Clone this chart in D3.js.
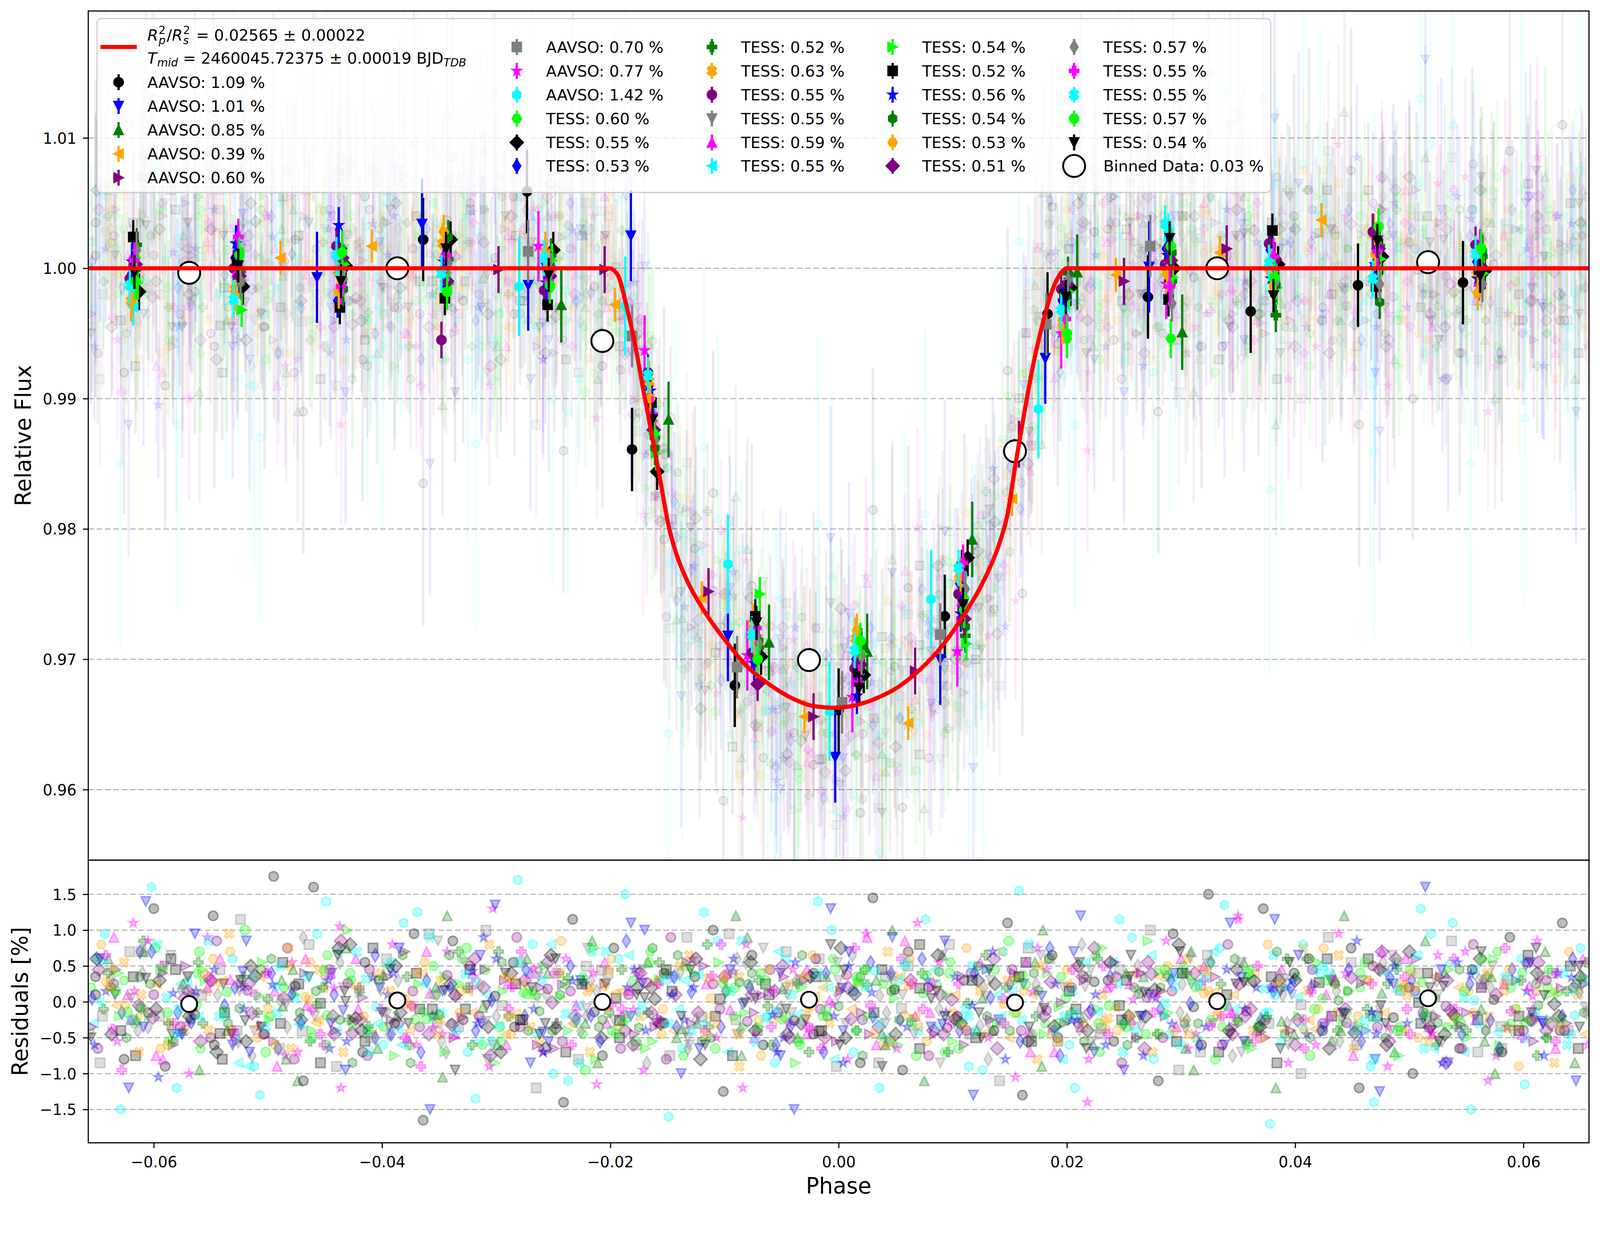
<!DOCTYPE html>
<html><head><meta charset="utf-8">
<script src="https://cdnjs.cloudflare.com/ajax/libs/d3/7.8.5/d3.min.js"></script>
<style>html,body{margin:0;padding:0;background:#fff;overflow:hidden}svg{display:block;background:#fff;width:100vw;height:100vh}</style>
</head><body>
<svg id="c" viewBox="0 0 4223 3192" preserveAspectRatio="xMinYMin meet"></svg>
<script>
// ---------------- DATA ----------------
const setSource = ["AAVSO","AAVSO","AAVSO","AAVSO","AAVSO","AAVSO","AAVSO","AAVSO",
  "TESS","TESS","TESS","TESS","TESS","TESS","TESS","TESS","TESS","TESS",
  "TESS","TESS","TESS","TESS","TESS","TESS","TESS","TESS","TESS","TESS"];
const setPct = [1.09,1.01,0.85,0.39,0.60,0.70,0.77,1.42,
  0.60,0.55,0.53,0.52,0.63,0.55,0.55,0.59,0.55,0.54,
  0.52,0.56,0.54,0.53,0.51,0.57,0.55,0.55,0.57,0.54];
const palette = ["#000000","#0000ff","#008000","#ffa500","#800080","#808080","#ff00ff","#00ffff","#00ff00"];
const markerCycle = ["o","v","^","<",">","s","*","h","H","D","d","P","X"];

const fitLabel1 = "0.02565 ± 0.00022";
const fitLabel2 = "2460045.72375 ± 0.00019";
const binnedLabel = "Binned Data: 0.03 %";

// transit model curve
const modelPhase = [-0.0660,-0.0201,-0.01936,-0.0186,-0.01784,-0.0171,-0.01633,-0.01558,-0.01482,-0.01424,-0.0133,-0.01177,-0.00984,-0.00795,-0.00604,-0.00413,-0.00224,-0.0003,0.00337,0.00526,0.00717,0.00908,0.01097,0.0129,0.01403,0.01479,0.01555,0.01631,0.01707,0.01784,0.0186,0.01937,0.0200,0.0660];
const modelFlux = [1.0,1.0,0.9995,0.99715,0.99416,0.9906,0.98706,0.98349,0.97994,0.97814,0.97608,0.97369,0.97134,0.96939,0.96805,0.96703,0.96642,0.96628,0.96703,0.9679,0.96924,0.97104,0.9734,0.97637,0.97875,0.9811,0.98526,0.98913,0.9927,0.99564,0.99802,0.9995,1.0,1.0];

// overall binned data (white circles)
const whitePhase = [-0.0569,-0.03866,-0.0207,-0.0026,0.01545,0.03317,0.05164];
const whiteFlux  = [0.99965,1.0000,0.99442,0.96994,0.98596,1.0000,1.00047];
const whiteResid = [-0.03,0.02,0.0,0.03,-0.01,0.01,0.05];

// AAVSO binned points
const aavsoBinSet = [0,0,0,0,0,0,0,0,0,0,0, 1,1,1,1,1,1,1,1,1, 2,2,2,2,2,2,2, 3,3,3,3,3,3,3,3,3,3, 4,4,4,4,4,4,4,4, 5,5,5,5,5,5,5, 6,6,6,6,6,6,6, 7,7,7,7,7,7];
const aavsoBinPhase = [-0.0364,-0.0273,-0.0181,-0.0091,0.0000,0.0093,0.0183,0.0271,0.0361,0.0455,0.0547,
  -0.0457,-0.0365,-0.0272,-0.0182,-0.0097,-0.0003,0.0089,0.0181,0.0272,
  -0.0243,-0.0149,-0.0061,0.0025,0.0117,0.0209,0.0301,
  -0.0489,-0.0409,-0.0196,-0.0120,-0.0030,0.0061,0.0152,0.0243,0.0334,0.0423,
  -0.0298,-0.0205,-0.0114,-0.0022,0.0067,0.0158,0.0250,0.0340,
  -0.0272,-0.0181,-0.0089,0.0003,0.0089,0.0182,0.0273,
  -0.0263,-0.0170,-0.0080,0.0012,0.0104,0.0195,0.0287,
  -0.0280,-0.0187,-0.0097,-0.0008,0.0081,0.0175];
const aavsoBinFlux = [1.0022,1.0059,0.9861,0.9680,0.9661,0.9733,0.9965,0.9978,0.9967,0.9987,0.9989,
  0.9993,1.0034,0.9987,1.0025,0.9718,0.9625,0.9700,0.9931,1.0001,
  0.9972,0.9884,0.9713,0.9706,0.9792,0.9997,0.9951,
  1.0008,1.0017,0.9972,0.9747,0.9656,0.9651,0.9823,0.9995,1.0012,1.0037,
  0.9999,0.9999,0.9752,0.9656,0.9691,0.9865,0.9990,1.0015,
  1.0013,0.9948,0.9694,0.9667,0.9719,0.9957,1.0017,
  1.0017,0.9937,0.9703,0.9671,0.9706,0.9950,0.9988,
  0.9986,0.9971,0.9773,0.9660,0.9746,0.9892];
const aavsoBinErr = [0.0032,0.0035,0.0029,0.0013,0.0018,0.0024,0.0027,0.0038];

// TESS binned points: 14 bins per TESS set (sets 8..27)
const tessBinCenter = [-0.0617,-0.0526,-0.0436,-0.0344,-0.0254,-0.0163,-0.0072,0.0018,0.0109,0.0199,0.0290,0.0381,0.0472,0.0562];
const tessPhaseOffset = [1,4,-3,2,-3,-4,0,-1,-1,3,-1,-2,2,-2,1,2,0,-4,1,0]; // units of 1e-4
const tessBinErr = [0.0015,0.0014,0.0013,0.0013,0.0016,0.0014,0.0014,0.0015,0.0014,0.0013,0.0013,0.0014,0.0013,0.0013,0.0013,0.0014,0.0014,0.0014,0.0014,0.0013];
const tessBinFlux = [
 1.0008,1.0013,1.0015,0.9985,0.9985,0.9876,0.9707,0.9705,0.9747,0.9946,0.9946,0.9995,0.9997,1.0007,
 0.9982,0.9986,1.0002,1.0022,1.0014,0.9844,0.9702,0.9688,0.9778,0.9985,1.0000,1.0003,1.0009,0.9998,
 0.9995,1.0008,0.9975,0.9998,1.0004,0.9910,0.9718,0.9700,0.9758,0.9975,1.0015,1.0014,1.0001,1.0005,
 1.0018,0.9998,1.0005,1.0007,1.0010,0.9870,0.9709,0.9709,0.9718,0.9996,0.9990,0.9964,1.0017,1.0009,
 0.9975,0.9984,0.9998,1.0019,1.0012,0.9913,0.9727,0.9716,0.9762,0.9958,0.9997,1.0000,1.0026,0.9995,
 0.9992,1.0000,1.0017,0.9945,0.9983,0.9920,0.9705,0.9693,0.9750,0.9984,1.0003,1.0019,1.0028,1.0018,
 0.9998,0.9993,0.9994,0.9993,0.9992,0.9880,0.9715,0.9685,0.9740,0.9972,1.0005,0.9994,0.9995,1.0002,
 1.0010,0.9997,1.0000,1.0012,1.0001,0.9893,0.9722,0.9699,0.9745,0.9965,1.0008,0.9997,1.0005,0.9990,
 0.9970,0.9990,0.9996,1.0001,0.9996,0.9890,0.9711,0.9712,0.9767,0.9970,1.0028,1.0001,0.9998,1.0003,
 0.9989,0.9968,1.0003,0.9988,1.0006,0.9858,0.9750,0.9704,0.9712,0.9982,0.9993,0.9985,1.0007,0.9996,
 1.0024,1.0006,0.9970,0.9977,0.9972,0.9897,0.9733,0.9690,0.9771,0.9980,0.9976,1.0029,0.9986,0.9999,
 1.0005,1.0019,1.0033,1.0005,0.9989,0.9906,0.9697,0.9672,0.9735,0.9975,1.0010,0.9992,1.0003,0.9992,
 1.0000,0.9989,0.9984,1.0024,1.0000,0.9862,0.9714,0.9711,0.9725,0.9990,1.0012,0.9987,0.9974,1.0013,
 0.9976,0.9980,0.9982,1.0028,1.0010,0.9900,0.9716,0.9722,0.9765,0.9955,0.9995,0.9996,1.0011,0.9981,
 1.0003,0.9994,1.0008,0.9990,0.9994,0.9876,0.9681,0.9696,0.9731,0.9988,1.0006,1.0007,1.0015,1.0000,
 1.0014,0.9990,0.9992,1.0004,0.9998,0.9868,0.9712,0.9702,0.9754,0.9991,0.9973,0.9990,0.9988,0.9988,
 1.0006,1.0024,0.9986,1.0010,0.9990,0.9888,0.9724,0.9682,0.9774,0.9961,0.9986,1.0009,1.0013,1.0016,
 0.9987,0.9976,1.0010,0.9996,1.0008,0.9918,0.9719,0.9707,0.9770,0.9968,1.0034,1.0004,0.9992,1.0011,
 0.9990,1.0010,1.0012,0.9982,0.9987,0.9873,0.9700,0.9714,0.9738,0.9950,1.0017,0.9993,1.0032,1.0015,
 0.9997,1.0002,0.9990,1.0015,0.9995,0.9884,0.9728,0.9678,0.9742,0.9978,1.0023,0.9979,1.0021,0.9994];

// raw points: phase (units 1e-4) and residual (units 0.01 %); point i belongs to set i % 28
const rawPhase = [
-651,-622,-640,-615,-633,-647,-618,-629,-655,-637,-612,-644,-626,-649,-620,-635,-653,-631,-616,-642,-624,-646,-613,-638,-628,-650,-619,-634,
-590,-607,-575,-598,-583,-611,-571,-602,-587,-595,-579,-609,-573,-600,-585,-592,-577,-604,-581,-596,-612,-588,-570,-605,-593,-578,-599,-584,
-548,-531,-560,-540,-566,-527,-553,-537,-562,-545,-529,-557,-534,-550,-564,-542,-526,-555,-538,-547,-568,-533,-559,-544,-530,-552,-563,-539,
-503,-519,-488,-510,-495,-524,-485,-507,-498,-515,-491,-521,-500,-483,-512,-494,-517,-505,-489,-522,-497,-509,-486,-514,-501,-492,-520,-506,
-460,-445,-474,-452,-468,-440,-479,-457,-448,-471,-442,-463,-455,-477,-450,-466,-439,-461,-473,-446,-458,-481,-443,-469,-454,-476,-449,-464,
-417,-402,-431,-409,-425,-396,-436,-413,-399,-428,-406,-420,-434,-411,-398,-423,-404,-430,-415,-395,-426,-408,-419,-437,-401,-422,-412,-433,
-372,-358,-387,-365,-380,-352,-391,-369,-355,-384,-361,-376,-393,-367,-351,-378,-363,-389,-370,-356,-382,-374,-359,-386,-366,-392,-354,-377,
-329,-314,-343,-321,-337,-309,-347,-325,-312,-340,-318,-333,-349,-323,-308,-335,-316,-345,-327,-311,-339,-331,-319,-344,-322,-348,-310,-336,
-285,-270,-299,-277,-293,-265,-303,-281,-268,-296,-274,-289,-306,-279,-264,-291,-272,-301,-283,-267,-295,-287,-275,-300,-278,-304,-266,-292,
-241,-226,-255,-233,-249,-221,-259,-237,-224,-252,-230,-245,-262,-235,-220,-247,-228,-257,-239,-223,-251,-243,-231,-256,-234,-260,-222,-248,
-197,-182,-211,-189,-205,-177,-215,-193,-180,-208,-186,-201,-218,-191,-176,-203,-184,-213,-195,-179,-207,-199,-187,-212,-190,-216,-178,-204,
-153,-138,-167,-145,-161,-133,-171,-149,-136,-164,-142,-157,-174,-147,-132,-159,-140,-169,-151,-135,-163,-155,-143,-168,-146,-172,-134,-160,
-110,-95,-124,-102,-118,-90,-128,-106,-93,-121,-99,-114,-131,-104,-89,-116,-97,-126,-108,-92,-120,-112,-100,-125,-103,-129,-91,-117,
-66,-51,-80,-58,-74,-46,-84,-62,-49,-77,-55,-70,-87,-60,-45,-72,-53,-82,-64,-48,-76,-68,-56,-81,-59,-85,-47,-73,
-22,-7,-36,-14,-30,-2,-40,-18,-5,-33,-11,-26,-43,-16,-1,-28,-9,-38,-20,-4,-32,-24,-12,-37,-15,-41,-3,-29,
19,4,33,11,27,41,8,36,15,2,30,23,39,13,6,25,43,17,31,9,21,1,35,12,28,42,16,38,
61,47,75,54,82,45,69,58,86,50,73,64,48,79,56,67,84,52,71,60,46,77,63,88,55,70,49,81,
104,118,91,126,110,97,131,114,93,122,106,129,99,116,89,124,108,95,120,102,130,112,92,127,100,117,105,123,
148,162,135,170,154,141,174,158,137,166,150,173,143,160,133,168,152,139,164,146,171,156,136,169,144,161,149,167,
192,206,179,214,198,185,218,202,181,210,194,217,187,204,177,212,196,183,208,190,215,200,180,213,188,205,193,211,
236,250,223,258,242,229,262,246,225,254,238,261,231,248,221,256,240,227,252,234,259,244,224,257,232,249,237,255,
280,294,267,302,286,273,306,290,269,298,282,305,275,292,265,300,284,271,296,278,303,288,268,301,276,293,281,299,
324,338,311,346,330,317,350,334,313,342,326,349,319,336,309,344,328,315,340,322,347,332,312,345,320,337,325,343,
368,382,355,390,374,361,394,378,357,386,370,393,363,380,353,388,372,359,384,366,391,376,356,389,364,381,369,387,
412,426,399,434,418,405,438,422,401,430,414,437,407,424,397,432,416,403,428,410,435,420,400,433,408,425,413,431,
456,470,443,478,462,449,482,466,445,474,458,481,451,468,441,476,460,447,472,454,479,464,444,477,452,469,457,475,
500,514,487,522,506,493,525,510,489,518,502,524,495,512,485,520,504,491,516,498,523,508,488,521,496,513,501,519,
544,558,531,566,550,537,569,554,533,562,546,568,539,556,529,564,548,535,560,542,567,552,532,565,540,557,545,563,
588,602,575,610,594,581,613,598,577,606,590,612,583,600,573,608,592,579,604,586,611,596,576,609,584,601,589,607,
632,646,619,654,638,625,656,642,621,650,634,655,627,644,617,652,636,623,648,630,653,640,620,651,628,645,633,649,
-626,-647,-615,-638,-654,-621,-632,-643,-617,-650,-628,-640,-613,-635,-656,-623,-645,-630,-618,-652,-637,-625,-648,-614,-642,-620,-633,-655,
-600,-575,-609,-587,-572,-595,-605,-580,-592,-569,-602,-583,-611,-577,-590,-598,-571,-607,-585,-578,-603,-594,-573,-610,-582,-597,-588,-570,
-547,-564,-536,-555,-527,-542,-569,-531,-559,-550,-538,-561,-533,-545,-566,-553,-529,-557,-540,-563,-535,-548,-568,-526,-552,-543,-560,-532,
-495,-516,-484,-507,-523,-490,-501,-512,-486,-519,-497,-509,-482,-504,-525,-492,-514,-499,-487,-521,-506,-494,-517,-483,-511,-489,-502,-524,
-469,-444,-478,-456,-441,-464,-474,-449,-461,-438,-471,-452,-480,-446,-459,-467,-440,-476,-454,-447,-472,-463,-442,-479,-451,-466,-457,-439,
-415,-432,-404,-423,-395,-410,-437,-399,-427,-418,-406,-429,-401,-413,-434,-421,-397,-425,-408,-431,-403,-416,-436,-394,-420,-411,-428,-400,
-364,-385,-353,-376,-392,-359,-370,-381,-355,-388,-366,-378,-351,-373,-394,-361,-383,-368,-356,-390,-375,-363,-386,-352,-380,-358,-371,-393,
-338,-313,-347,-325,-310,-333,-343,-318,-330,-307,-340,-321,-349,-315,-328,-336,-309,-345,-323,-316,-341,-332,-311,-348,-320,-335,-326,-308,
-284,-301,-273,-292,-264,-279,-306,-268,-296,-287,-275,-298,-270,-282,-303,-290,-266,-294,-277,-300,-272,-285,-305,-263,-289,-280,-297,-269,
-233,-254,-222,-245,-261,-228,-239,-250,-224,-257,-235,-247,-220,-242,-263,-230,-252,-237,-225,-259,-244,-232,-255,-221,-249,-227,-240,-262,
-207,-182,-216,-194,-179,-202,-212,-187,-199,-176,-209,-190,-218,-184,-197,-205,-178,-214,-192,-185,-210,-201,-180,-217,-189,-204,-195,-177,
-153,-170,-142,-161,-133,-148,-175,-137,-165,-156,-144,-167,-139,-151,-172,-159,-135,-163,-146,-169,-141,-154,-174,-132,-158,-149,-166,-138,
-101,-122,-90,-113,-129,-96,-107,-118,-92,-125,-103,-115,-88,-110,-131,-98,-120,-105,-93,-127,-112,-100,-123,-89,-117,-95,-108,-130,
-76,-51,-85,-63,-48,-71,-81,-56,-68,-45,-78,-59,-87,-53,-66,-74,-47,-83,-61,-54,-79,-70,-49,-86,-58,-73,-64,-46,
-22,-39,-11,-30,-2,-17,-44,-6,-34,-25,-13,-36,-8,-20,-41,-28,-4,-32,-15,-38,-10,-23,-43,-1,-27,-18,-35,-7,
30,9,41,18,2,35,24,13,39,6,28,16,43,21,0,33,11,26,38,4,19,31,8,42,14,36,23,1,
56,81,47,69,84,61,51,76,64,87,54,73,45,79,66,58,85,49,71,78,53,62,83,46,74,59,68,86,
110,93,121,102,130,115,88,126,98,107,119,96,124,112,91,104,128,100,117,94,122,109,89,131,105,114,97,125,
161,140,172,149,133,166,155,144,170,137,159,147,174,152,131,164,142,157,169,135,150,162,139,173,145,167,154,132,
187,212,178,200,215,192,182,207,195,218,185,204,176,210,197,189,216,180,202,209,184,193,214,177,205,190,199,217,
241,224,252,233,261,246,219,257,229,238,250,227,255,243,222,235,259,231,248,225,253,240,220,262,236,245,228,256,
293,272,304,281,265,298,287,276,302,269,291,279,306,284,263,296,274,289,301,267,282,294,271,305,277,299,286,264,
318,343,309,331,346,323,313,338,326,349,316,335,307,341,328,320,347,311,333,340,315,324,345,308,336,321,330,348,
372,355,383,364,392,377,350,388,360,369,381,358,386,374,353,366,390,362,379,356,384,371,351,393,367,376,359,387,
424,403,435,412,396,429,418,407,433,400,422,410,437,415,394,427,405,420,432,398,413,425,402,436,408,430,417,395,
449,474,440,462,477,454,444,469,457,480,447,466,438,472,459,451,478,442,464,471,446,455,476,439,467,452,461,479,
503,486,514,495,523,508,481,519,491,500,512,489,517,505,484,497,521,493,510,487,515,502,482,524,498,507,490,518,
555,534,566,543,527,560,549,538,564,531,553,541,568,546,525,558,536,551,563,529,544,556,533,567,539,561,548,526,
581,606,572,594,609,586,576,601,589,612,579,598,570,604,591,583,610,574,596,603,578,587,608,571,599,584,593,611,
634,617,645,626,654,639,612,650,622,631,643,620,648,636,615,628,652,624,641,618,646,633,613,655,629,638,621,649,
-651,-609,-574,-633,-592,-645,-617,-580,-626,-598,-654,-587,-639,-605,-571,-620,-648,-594,-629,-583,-612,-642,-601,-576,-636,-589,-623,-607,
-564,-522,-487,-546,-505,-558,-530,-493,-539,-511,-567,-500,-552,-518,-484,-533,-561,-507,-542,-496,-525,-555,-514,-489,-549,-502,-536,-520,
-476,-434,-399,-458,-417,-470,-442,-405,-451,-423,-479,-412,-464,-430,-396,-445,-473,-419,-454,-408,-437,-467,-426,-401,-461,-414,-448,-432,
-389,-347,-312,-371,-330,-383,-355,-318,-364,-336,-392,-325,-377,-343,-309,-358,-386,-332,-367,-321,-350,-380,-339,-314,-374,-327,-361,-345,
-301,-259,-224,-283,-242,-295,-267,-230,-276,-248,-304,-237,-289,-255,-221,-270,-298,-244,-279,-233,-262,-292,-251,-226,-286,-239,-273,-257,
-214,-172,-137,-196,-155,-208,-180,-143,-189,-161,-217,-150,-202,-168,-134,-183,-211,-157,-192,-146,-175,-205,-164,-139,-199,-152,-186,-170,
-126,-84,-49,-108,-67,-120,-92,-55,-101,-73,-129,-62,-114,-80,-46,-95,-123,-69,-104,-58,-87,-117,-76,-51,-111,-64,-98,-82,
-39,3,38,-21,20,-33,-5,32,-14,14,-42,25,-27,7,41,-8,-36,18,-17,29,0,-30,11,36,-24,23,-11,5,
49,91,126,67,108,55,83,120,74,102,46,113,61,95,129,80,52,106,71,117,88,58,99,124,64,111,77,93,
136,178,213,154,195,142,170,207,161,189,133,200,148,182,216,167,139,193,158,204,175,145,186,211,151,198,164,180,
224,266,301,242,283,230,258,295,249,277,221,288,236,270,304,255,227,281,246,292,263,233,274,299,239,286,252,268,
311,353,388,329,370,317,345,382,336,364,308,375,323,357,391,342,314,368,333,379,350,320,361,386,326,373,339,355,
399,441,476,417,458,405,433,470,424,452,396,463,411,445,479,430,402,456,421,467,438,408,449,474,414,461,427,443,
486,528,563,504,545,492,520,557,511,539,483,550,498,532,566,517,489,543,508,554,525,495,536,561,501,548,514,530,
574,616,651,592,633,580,608,645,599,627,571,638,586,620,654,605,577,631,596,642,613,583,624,649,589,636,602,618];
const rawResid = [
35,-120,60,-20,45,-85,110,-150,20,-45,70,-10,55,-65,5,90,-30,40,-75,15,-50,80,-5,30,-95,60,-25,10,
-90,140,-40,25,-60,70,-30,160,-55,30,-15,85,-40,10,65,-80,25,-20,45,-105,35,-60,15,-35,50,-10,75,-45,
120,-60,-95,30,10,-40,90,-20,40,-70,20,-30,95,-50,5,60,-85,30,-15,45,-25,70,-55,10,-40,85,-5,25,
-45,85,30,-35,-55,115,-75,-130,-20,50,-65,35,-10,75,-40,15,-90,55,-30,20,60,-50,5,-75,40,-15,100,-35,
160,-30,-110,20,40,-90,55,95,65,-25,10,-55,45,-80,30,-5,70,-40,25,-65,15,50,-20,90,-45,5,-60,35,
-70,20,75,-45,-25,60,-120,-40,-35,80,-50,20,-70,45,-15,60,-30,100,-55,10,-85,35,-25,55,-10,70,-40,15,
95,-150,-20,40,70,-30,80,125,50,-15,30,-60,15,-35,85,-50,25,-75,40,-20,65,-5,-45,30,-90,55,10,-30,
-25,65,120,-15,-50,100,-45,-70,-60,25,-40,70,-25,50,-80,10,-55,35,-10,90,-30,15,60,-70,20,-15,45,-95,
55,-85,-60,25,30,-120,130,170,15,-70,45,-20,80,-35,5,-60,40,-85,25,-10,55,-45,30,-20,70,-55,10,40,
-140,30,40,-30,-65,50,-70,-110,-45,65,-25,40,-55,15,75,-30,-5,50,-70,25,-40,85,-20,10,-60,30,-95,60,
75,110,-85,15,25,-60,40,60,30,-50,85,-15,20,-65,40,-30,65,-80,5,45,-25,60,-40,15,-10,70,-55,25,
-30,-100,55,-40,-35,90,-95,-160,-75,20,-35,55,-20,90,-50,30,-10,-65,45,-25,75,-45,10,-85,35,-5,50,-30,
100,45,-30,30,50,-25,60,85,40,-80,15,-35,65,-10,-45,25,-70,40,-20,60,-55,5,35,-25,80,-40,20,-60,
-60,-75,90,-25,-15,70,-120,-20,-25,55,-60,30,-90,45,10,-40,70,-15,25,-50,40,-75,15,55,-35,85,-20,5,
40,130,-50,20,30,-90,45,140,60,-30,40,-70,25,-10,55,-45,20,-85,35,-20,65,-5,-50,30,-65,10,45,-25,
-85,-40,30,-10,-45,35,-80,-120,-40,75,-20,45,-60,15,-30,90,-55,25,-15,50,-75,20,-35,65,-5,-50,35,-90,
70,90,-110,35,20,-55,110,50,25,-45,60,-25,35,-75,10,-20,45,-60,80,-35,15,-55,30,-10,60,-40,20,5,
-20,-130,65,-45,-60,80,-50,-90,-70,30,-40,65,-15,40,-85,55,-25,10,-50,35,-20,75,-45,20,-30,50,-65,-15,
110,25,-40,10,40,-110,75,155,45,-55,25,-20,70,-40,30,-70,15,-30,55,-80,40,-15,60,-45,5,-25,85,-35,
-50,70,100,-30,-30,60,-140,-60,-30,50,-75,35,-45,20,65,-35,-80,40,-10,25,-55,45,-20,80,-40,15,-30,55,
30,-95,-60,40,55,-45,40,115,65,-20,35,-50,10,-85,45,-25,55,-10,30,-60,20,-40,75,-30,50,-70,-5,35,
-110,40,35,-25,-20,100,-65,-45,-45,80,-10,40,-70,15,-35,60,-20,85,-55,5,-30,50,-65,25,-15,35,-45,70,
150,-60,-95,10,35,-70,120,75,20,-40,55,-25,45,-60,25,-15,70,-50,10,-35,60,-20,40,-75,30,-5,55,-45,
-35,115,55,-40,-50,30,-85,-170,-60,30,-25,60,-40,20,-70,45,-15,35,-85,20,-45,80,-20,10,-55,65,-30,15,
60,-35,-45,25,25,-100,95,40,35,-65,20,-40,75,-30,10,-55,45,-20,60,-45,25,-10,-60,35,-25,50,-75,30,
-120,-80,120,-15,-40,55,-35,-90,-15,45,-55,25,-65,50,-25,70,-40,15,-20,85,-50,30,-10,55,-35,-80,40,-5,
20,160,-70,35,60,-40,65,130,55,-35,30,-60,25,-15,65,-45,10,-75,40,-30,5,-50,60,-20,35,-65,45,-40,
-65,-20,40,-30,-15,85,-110,-150,-35,60,-45,35,-20,80,-55,25,-70,45,-25,55,-40,15,-85,30,-10,45,-30,70,
90,50,-100,15,30,-65,30,60,70,-25,45,-75,15,-40,50,-10,30,-60,65,-35,25,-90,10,-20,75,-50,20,-15,
-40,-110,70,-45,-30,40,-60,-45,-50,35,-20,55,-85,20,-30,60,-45,10,-65,40,-15,70,-40,25,-55,15,-25,50,
-80,60,-25,45,-35,70,-55,95,-30,60,-15,40,-70,25,-45,10,55,-20,35,-60,20,-5,45,-40,65,-25,15,-50,
130,-45,70,-30,50,-20,85,-120,45,-20,70,-55,10,-35,50,-75,30,-10,60,-45,25,-65,5,40,-30,80,-15,35,
-60,95,-40,15,-55,45,-100,60,-65,30,-5,55,-40,85,-25,20,-50,45,-80,15,-30,60,-10,-55,35,-20,70,-45,
175,-70,-80,35,25,-65,40,-90,20,-55,40,-15,75,-45,15,-90,35,-25,55,-10,45,-60,25,-35,10,50,-70,30,
-110,40,45,-25,-40,80,-70,140,-50,75,-30,20,-65,45,-20,60,-40,10,-85,30,-15,55,-45,20,-60,35,-5,65,
55,-95,-65,20,35,-50,105,-60,30,-40,65,-25,40,-75,20,-10,50,-35,75,-55,30,-20,85,-45,15,-70,40,-15,
-165,75,20,-40,-25,95,-60,110,-20,50,-70,35,-45,15,-35,70,-60,25,-10,40,-85,55,-30,10,-50,90,-25,45,
85,-30,-105,15,45,-35,70,-135,60,-35,20,-60,30,-20,55,-45,10,-70,45,-30,65,-15,20,-55,35,-40,75,-5,
-35,135,60,-45,-60,55,-90,80,-55,40,-20,70,-35,90,-60,25,-45,15,-25,60,-40,30,-75,45,-10,55,-35,20,
115,-55,-30,40,20,-80,60,-100,35,-65,50,-30,15,-55,35,-5,80,-40,25,-70,10,-30,55,-20,40,-85,25,-45,
-75,-20,85,-35,-45,40,-115,150,-40,20,-55,45,-70,10,-25,55,-15,75,-50,20,-35,45,-60,30,-20,70,-45,10,
40,100,-50,30,55,-75,35,-65,70,-30,35,-15,50,-80,45,-25,30,-55,15,-40,65,-10,40,-65,25,-30,55,-20,
-125,-65,120,-20,-30,95,-50,125,-20,60,-35,80,-45,25,-60,40,-30,55,-75,20,-50,35,-15,60,-40,15,-65,45,
65,40,-75,45,35,-40,80,-85,40,-45,20,-60,35,-15,75,-50,60,-35,10,-70,25,-25,50,-40,15,-55,30,-10,
-45,-150,35,-20,-55,60,-30,100,-60,35,-70,25,-30,60,-15,45,-80,20,-40,55,-20,65,-50,10,-35,40,-55,80,
145,70,-60,25,15,-85,95,-70,25,-50,55,-40,70,-25,30,-60,15,-20,45,-85,35,-45,20,-15,75,-30,45,-60,
-95,-35,100,-35,-45,50,-65,115,-30,65,-25,40,-55,20,-45,85,-35,5,-65,30,-25,60,-40,35,-10,55,-75,15,
30,85,-40,10,45,-45,55,-95,55,-30,40,-70,15,-40,65,-20,45,-55,30,-15,50,-35,10,-80,25,-20,40,-50,
-130,-25,55,-50,-25,75,-105,70,-45,25,-55,20,-80,45,-30,55,-20,30,-55,70,-40,15,-65,25,-30,80,-15,45,
65,120,-90,25,30,-55,45,-120,35,-40,75,-15,50,-30,20,-70,55,-45,15,-25,60,-55,35,-10,45,-40,5,-65,
-55,-70,40,-40,-50,45,-80,90,-70,55,-30,60,-20,35,-55,20,-40,75,-25,10,-60,30,-15,50,-45,25,-30,65,
95,10,-65,35,40,-95,85,-80,50,-20,30,-45,60,-50,15,-35,65,-15,40,-75,20,-40,55,-25,10,-60,45,-20,
-60,110,70,-15,-35,65,-45,135,-25,45,-60,25,-45,80,-30,50,-10,30,-70,45,-30,15,-45,65,-20,35,-80,25,
130,-55,-120,40,20,-30,115,-55,45,-35,15,-55,25,-25,55,-40,20,-65,35,-10,70,-50,25,-30,50,-15,40,-65,
-40,65,30,-25,-40,90,-60,80,-55,30,-40,60,-15,45,-60,10,-35,55,-20,30,-50,75,-25,15,-65,40,-10,55,
75,-125,-40,30,45,-60,40,-140,20,-60,45,-20,65,-35,30,-75,40,-30,60,-45,15,-20,70,-55,25,-40,55,-30,
-100,25,85,-40,-20,40,-90,95,-35,70,-20,45,-55,15,-40,60,-65,20,-30,50,-20,40,-55,30,-10,65,-40,20,
45,-85,-55,20,35,-70,70,110,60,-45,25,-35,40,-65,10,-25,55,-50,20,-85,45,-15,30,-40,60,-30,15,-55,
-70,55,35,-35,-55,30,-75,-115,-30,40,-65,30,-20,55,-45,25,-15,60,-40,15,-70,45,-25,20,-50,35,-10,75,
110,-30,-85,15,25,-40,85,75,45,-20,60,-50,10,-40,35,-65,30,-25,50,-75,25,-35,55,-15,40,-60,20,-35,
10,-35,25,-5,40,-20,15,-45,30,-10,5,-30,20,-15,35,-25,0,45,-40,12,-8,28,-22,18,-38,6,-14,33,
-18,42,-6,27,-33,9,-47,21,-12,36,-28,4,-39,16,-3,31,-21,8,-44,24,-9,38,-16,2,29,-35,14,-26,
22,-12,37,-29,6,-41,19,-7,44,-23,11,-34,3,26,-17,40,-31,13,-2,34,-25,7,-43,17,-11,32,-19,1,
-30,15,-8,41,-22,3,-36,28,-14,9,-45,20,-4,37,-27,12,-39,25,-10,43,-18,5,-32,23,-6,39,-24,16,
8,-42,30,-16,24,-5,46,-27,13,-37,2,33,-20,18,-9,40,-34,7,-25,29,-13,35,-1,-41,21,-17,11,-30,
-14,26,-38,12,-24,44,-11,35,-29,4,-19,39,-7,27,-43,16,-2,31,-26,10,-36,22,-15,41,-4,30,-22,6,
35,-3,18,-32,9,-21,42,-13,25,-40,14,-6,33,-27,20,-11,38,-35,4,-18,27,-44,10,-8,36,-23,15,-1,
-26,19,-45,7,-15,31,-4,43,-20,11,-33,24,-9,38,-30,2,-17,29,-41,13,-6,36,-24,9,-37,21,-12,44,
17,-31,5,-20,36,-9,27,-40,12,-24,40,-2,23,-36,8,-15,31,-28,19,-5,42,-19,3,-33,25,-11,37,-21,
-40,8,-22,33,-1,-29,14,-16,38,-34,6,-25,30,-12,21,-42,10,-7,35,-26,16,-3,28,-38,4,-20,24,-9,
28,-20,41,-8,15,-37,3,20,-30,17,-11,36,-23,6,-39,25,-14,42,-5,-31,11,-27,39,-15,22,-2,-35,13,
-7,34,-27,14,-42,23,-18,9,-35,29,-2,-21,41,-13,32,-6,24,-37,1,19,-28,12,-10,37,-33,18,-4,27,
40,-15,12,-38,26,-4,31,-23,5,-43,20,-10,16,-29,43,-19,7,-32,27,-14,2,-39,34,-7,14,-26,30,-17,
-22,45,-10,21,-32,16,-44,2,27,-18,34,-40,9,-6,24,-35,15,-23,-1,38,-29,20,-12,31,-45,6,-16,22,
3,-27,36,-11,19,-34,8,-19,41,-3,-26,15,-37,30,-8,22,-42,11,-20,34,-5,26,-31,14,-13,40,-28,9];

const mainTicks = [0.96,0.97,0.98,0.99,1.00,1.01];
const resTicks = [-1.5,-1.0,-0.5,0.0,0.5,1.0,1.5];
const phaseTicks = [-0.06,-0.04,-0.02,0.00,0.02,0.04,0.06];

// ---------------- RENDER ----------------
const FONT = "'DejaVu Sans', 'Liberation Sans', sans-serif";
const svg = d3.select("#c");
const L = 233, R = 4194, T = 29, M = 2270, B = 3016;
const x = d3.scaleLinear().domain([-0.06574, 0.06574]).range([L, R]);
const yM = d3.scaleLinear().domain([0.95459, 1.01974]).range([M, T]);
const yR = d3.scaleLinear().domain([-1.965, 1.976]).range([B, M]);

const colorOf = i => palette[i % palette.length];
const markOf = i => markerCycle[i % markerCycle.length];

function markerPath(m, s) {
  const h = s / 2;
  const poly = pts => "M" + pts.map(p => p[0].toFixed(2) + "," + p[1].toFixed(2)).join("L") + "Z";
  const q = s * 0.7071;
  switch (m) {
    case "o": return `M${h},0A${h},${h} 0 1,1 ${-h},0A${h},${h} 0 1,1 ${h},0Z`;
    case "v": return poly([[0, h], [-h, -h], [h, -h]]);
    case "^": return poly([[0, -h], [-h, h], [h, h]]);
    case "<": return poly([[-h, 0], [h, -h], [h, h]]);
    case ">": return poly([[h, 0], [-h, -h], [-h, h]]);
    case "s": return poly([[-h, -h], [h, -h], [h, h], [-h, h]]);
    case "*": { const pts = []; for (let k = 0; k < 10; k++) { const r = k % 2 ? h * 0.381966 : h; const a = -Math.PI / 2 + k * Math.PI / 5; pts.push([r * Math.cos(a), r * Math.sin(a)]); } return poly(pts); }
    case "h": { const pts = []; for (let k = 0; k < 6; k++) { const a = -Math.PI / 2 + k * Math.PI / 3; pts.push([h * Math.cos(a), h * Math.sin(a)]); } return poly(pts); }
    case "H": { const pts = []; for (let k = 0; k < 6; k++) { const a = k * Math.PI / 3; pts.push([h * Math.cos(a), h * Math.sin(a)]); } return poly(pts); }
    case "D": return poly([[0, -q], [q, 0], [0, q], [-q, 0]]);
    case "d": return poly([[0, -q], [0.6 * q, 0], [0, q], [-0.6 * q, 0]]);
    case "P": { const u = s / 6; return poly([[-u,-3*u],[u,-3*u],[u,-u],[3*u,-u],[3*u,u],[u,u],[u,3*u],[-u,3*u],[-u,u],[-3*u,u],[-3*u,-u],[-u,-u]]); }
    case "X": { const v = s / 4; return poly([[-v,-2*v],[0,-v],[v,-2*v],[2*v,-v],[v,0],[2*v,v],[v,2*v],[0,v],[-v,2*v],[-2*v,v],[-v,0],[-2*v,-v]]); }
  }
  return "";
}

// model interpolation (linear between read points)
const bis = d3.bisector(d => d).left;
function modelAt(p) {
  let i = bis(modelPhase, p);
  if (i <= 0) return modelFlux[0];
  if (i >= modelPhase.length) return modelFlux[modelFlux.length - 1];
  const p0 = modelPhase[i - 1], p1 = modelPhase[i];
  const t = (p - p0) / (p1 - p0);
  return modelFlux[i - 1] + t * (modelFlux[i] - modelFlux[i - 1]);
}

const defs = svg.append("defs");
defs.append("clipPath").attr("id", "clipM").append("rect").attr("x", L).attr("y", T).attr("width", R - L).attr("height", M - T);
defs.append("clipPath").attr("id", "clipR").append("rect").attr("x", L).attr("y", M).attr("width", R - L).attr("height", B - M);

svg.append("rect").attr("x", 0).attr("y", 0).attr("width", 4223).attr("height", 3192).attr("fill", "#fff");

// grid
const gridStyle = g => g.attr("stroke", "#aaaaaa").attr("stroke-width", 2.5).attr("stroke-dasharray", "15,7");
svg.append("g").selectAll("line").data(mainTicks).join("line")
  .attr("x1", L).attr("x2", R).attr("y1", d => yM(d)).attr("y2", d => yM(d)).call(gridStyle);
svg.append("g").selectAll("line").data(resTicks).join("line")
  .attr("x1", L).attr("x2", R).attr("y1", d => yR(d)).attr("y2", d => yR(d)).call(gridStyle);

// raw points
const nRaw = Math.min(rawPhase.length, rawResid.length);
const raw = d3.range(nRaw).map(i => {
  const set = i % 28;
  const ph = rawPhase[i] * 1e-4;
  const res = rawResid[i] / 100;
  return { set, ph, res, flux: modelAt(ph) + res / 100, err: setPct[set] / 100 };
});

const gRawM = svg.append("g").attr("clip-path", "url(#clipM)");
gRawM.selectAll("line").data(raw).join("line")
  .attr("x1", d => x(d.ph)).attr("x2", d => x(d.ph))
  .attr("y1", d => yM(d.flux - d.err)).attr("y2", d => yM(d.flux + d.err))
  .attr("stroke", d => colorOf(d.set)).attr("stroke-opacity", 0.08).attr("stroke-width", 6);
gRawM.selectAll("path").data(raw).join("path")
  .attr("transform", d => `translate(${x(d.ph)},${yM(d.flux)})`)
  .attr("d", d => markerPath(markOf(d.set), 22))
  .attr("fill", d => colorOf(d.set)).attr("fill-opacity", 0.06)
  .attr("stroke", d => colorOf(d.set)).attr("stroke-opacity", 0.1).attr("stroke-width", 4);

const gRawR = svg.append("g").attr("clip-path", "url(#clipR)");
gRawR.selectAll("path").data(raw).join("path")
  .attr("transform", d => `translate(${x(d.ph)},${yR(d.res)})`)
  .attr("d", d => markerPath(markOf(d.set), 25))
  .attr("fill", d => colorOf(d.set)).attr("fill-opacity", 0.26)
  .attr("stroke", d => colorOf(d.set)).attr("stroke-opacity", 0.32).attr("stroke-width", 4);

// binned per-dataset points
const binned = [];
aavsoBinSet.forEach((s, i) => binned.push({ set: s, ph: aavsoBinPhase[i], flux: aavsoBinFlux[i], err: aavsoBinErr[s] }));
for (let d = 0; d < 20; d++) {
  for (let c = 0; c < tessBinCenter.length; c++) {
    binned.push({ set: 8 + d, ph: tessBinCenter[c] + tessPhaseOffset[d] * 1e-4, flux: tessBinFlux[d * 14 + c], err: tessBinErr[d] });
  }
}
binned.sort((a, b) => a.set - b.set);
const gBin = svg.append("g").attr("clip-path", "url(#clipM)");
d3.groups(binned, d => d.set).forEach(([s, pts]) => {
  const g = gBin.append("g");
  g.selectAll("line").data(pts).join("line")
    .attr("x1", d => x(d.ph)).attr("x2", d => x(d.ph))
    .attr("y1", d => yM(d.flux - d.err)).attr("y2", d => yM(d.flux + d.err))
    .attr("stroke", colorOf(s)).attr("stroke-width", 6);
  g.selectAll("path").data(pts).join("path")
    .attr("transform", d => `translate(${x(d.ph)},${yM(d.flux)})`)
    .attr("d", markerPath(markOf(s), 24))
    .attr("fill", colorOf(s)).attr("stroke", colorOf(s)).attr("stroke-width", 4);
});

// white binned (main)
svg.append("g").selectAll("circle").data(whitePhase).join("circle")
  .attr("cx", d => x(d)).attr("cy", (d, i) => yM(whiteFlux[i])).attr("r", 29)
  .attr("fill", "#fff").attr("stroke", "#000").attr("stroke-width", 5);

// model line
const line = d3.line().x(d => x(d[0])).y(d => yM(d[1])).curve(d3.curveMonotoneX);
svg.append("path").attr("clip-path", "url(#clipM)")
  .attr("d", line(modelPhase.map((p, i) => [p, modelFlux[i]])))
  .attr("fill", "none").attr("stroke", "#ff0000").attr("stroke-width", 11);

// white binned (residuals)
svg.append("g").selectAll("circle").data(whitePhase).join("circle")
  .attr("cx", d => x(d)).attr("cy", (d, i) => yR(whiteResid[i])).attr("r", 21)
  .attr("fill", "#fff").attr("stroke", "#000").attr("stroke-width", 5);

// axes
function styleAxis(g, dy) {
  g.select(".domain").remove();
  g.selectAll(".tick line").attr("stroke", "#000").attr("stroke-width", 3);
  g.selectAll(".tick text").attr("font-family", FONT).attr("font-size", 40).attr("fill", "#000");
  if (dy) g.selectAll(".tick text").attr("dy", dy);
}
svg.append("g").attr("transform", `translate(${L},0)`)
  .call(d3.axisLeft(yM).tickValues(mainTicks).tickFormat(d3.format(".2f")).tickSize(14).tickPadding(17))
  .call(g => styleAxis(g, "0.36em"));
svg.append("g").attr("transform", `translate(${L},0)`)
  .call(d3.axisLeft(yR).tickValues(resTicks).tickFormat(d3.format(".1f")).tickSize(14).tickPadding(17))
  .call(g => styleAxis(g, "0.36em"));
svg.append("g").attr("transform", `translate(0,${B})`)
  .call(d3.axisBottom(x).tickValues(phaseTicks).tickFormat(d3.format(".2f")).tickSize(14).tickPadding(22))
  .call(g => styleAxis(g, null));

// frames
svg.append("rect").attr("x", L).attr("y", T).attr("width", R - L).attr("height", M - T).attr("fill", "none").attr("stroke", "#000").attr("stroke-width", 3);
svg.append("rect").attr("x", L).attr("y", M).attr("width", R - L).attr("height", B - M).attr("fill", "none").attr("stroke", "#000").attr("stroke-width", 3);

// axis labels
svg.append("text").attr("x", (L + R) / 2).attr("y", 3150).attr("text-anchor", "middle")
  .attr("font-family", FONT).attr("font-size", 58).text("Phase");
svg.append("text").attr("transform", `translate(81,${(T + M) / 2}) rotate(-90)`).attr("text-anchor", "middle")
  .attr("font-family", FONT).attr("font-size", 58).text("Relative Flux");
svg.append("text").attr("transform", `translate(73,${(M + B) / 2}) rotate(-90)`).attr("text-anchor", "middle")
  .attr("font-family", FONT).attr("font-size", 58).text("Residuals [%]");

// legend
const lg = svg.append("g");
lg.append("rect").attr("x", 256).attr("y", 49).attr("width", 3098).attr("height", 459).attr("rx", 12)
  .attr("fill", "#fff").attr("fill-opacity", 0.8).attr("stroke", "#cccccc").attr("stroke-width", 3);
const colMarkX = [313, 1364, 1879, 2356, 2835];
const colTextX = [389, 1441, 1956, 2434, 2912];
const rowsCol1 = [124, 217, 280, 343, 406, 469];
const rowsOther = [124, 187, 250, 313, 376, 438];
const FS = 41;

lg.append("line").attr("x1", 265).attr("x2", 361).attr("y1", 124).attr("y2", 124).attr("stroke", "#ff0000").attr("stroke-width", 11);
function mathLine(x0, yb, pieces) {
  let cx = x0;
  pieces.forEach(pc => {
    if (pc.stack) {
      const t1 = lg.append("text").attr("x", cx).attr("y", yb - 17).attr("font-family", FONT).attr("font-size", 29).text(pc.sup);
      const t2 = lg.append("text").attr("x", cx).attr("y", yb + 10).attr("font-family", FONT).attr("font-size", 29).attr("font-style", "italic").text(pc.sub);
      cx += Math.max(t1.node().getComputedTextLength(), t2.node().getComputedTextLength()) + 3;
    } else {
      const t = lg.append("text").attr("x", cx).attr("y", yb + (pc.dy || 0)).attr("font-family", FONT)
        .attr("font-size", pc.size || FS).attr("font-style", pc.italic ? "italic" : "normal").text(pc.t);
      cx += t.node().getComputedTextLength() + (pc.gap || 0);
    }
  });
}
const NB = "\u00a0";
mathLine(389, 107, [
  { t: "R", italic: true, gap: 1 }, { stack: true, sup: "2", sub: "p" }, { t: "/" },
  { t: "R", italic: true, gap: 1 }, { stack: true, sup: "2", sub: "s" },
  { t: NB + "=" + NB + fitLabel1 }
]);
mathLine(389, 168, [
  { t: "T", italic: true, gap: 1 }, { t: "mid", italic: true, size: 29, dy: 7 },
  { t: NB + "=" + NB + fitLabel2 + NB + "BJD" }, { t: "TDB", italic: true, size: 29, dy: 7 }
]);

function legendMarker(cx, cy, s) {
  lg.append("line").attr("x1", cx).attr("x2", cx).attr("y1", cy - 21).attr("y2", cy + 21).attr("stroke", colorOf(s)).attr("stroke-width", 6);
  lg.append("path").attr("transform", `translate(${cx},${cy})`).attr("d", markerPath(markOf(s), 24))
    .attr("fill", colorOf(s)).attr("stroke", colorOf(s)).attr("stroke-width", 4);
}
for (let s = 0; s < 28; s++) {
  let col, cy;
  if (s < 5) { col = 0; cy = rowsCol1[s + 1]; }
  else { const k = s - 5; col = 1 + Math.floor(k / 6); cy = rowsOther[k % 6]; }
  legendMarker(colMarkX[col], cy, s);
  lg.append("text").attr("x", colTextX[col]).attr("y", cy + 15).attr("font-family", FONT).attr("font-size", FS)
    .text(`${setSource[s]}: ${setPct[s].toFixed(2)} %`);
}
lg.append("circle").attr("cx", colMarkX[4]).attr("cy", rowsOther[5]).attr("r", 29)
  .attr("fill", "#fff").attr("stroke", "#000").attr("stroke-width", 5);
lg.append("text").attr("x", colTextX[4]).attr("y", rowsOther[5] + 15).attr("font-family", FONT).attr("font-size", FS).text(binnedLabel);
</script>
</body></html>
